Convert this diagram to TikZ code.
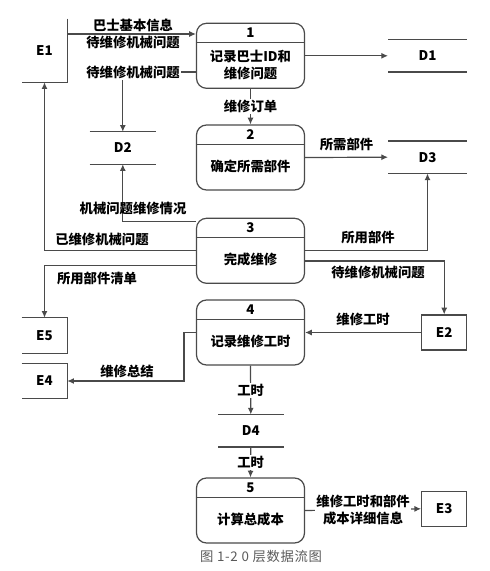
\documentclass[tikz,border=0pt]{standalone}
\usepackage{fontspec}
\setmainfont{Noto Sans CJK SC}
\usepackage{tikz}
\usetikzlibrary{arrows.meta,positioning}
\definecolor{flowgray}{HTML}{4A4A4A}
\definecolor{capgray}{HTML}{5A5A5A}

\begin{document}
\begin{tikzpicture}[x=0.75pt,y=-0.75pt,
    txt/.style={font=\fontsize{10}{13}\selectfont\bfseries, align=center},
    lbl/.style={txt, fill=white, inner sep=1pt},
    proc/.style={draw=flowgray, line width=0.9pt, rounded corners=7.5pt,
      minimum width=81pt, minimum height=48.75pt, inner sep=0pt},
    ent/.style={txt, minimum width=33.75pt, minimum height=26.25pt, inner sep=0pt},
    store/.style={txt, minimum height=24pt, inner sep=0pt},
    flow/.style={draw=flowgray, line width=0.9pt, -{Latex[length=5pt,width=4.5pt]}},
    edge/.style={draw=flowgray, line width=0.9pt}]
  \useasboundingbox (0,0) rectangle (489,571);

  % Processes: number on top, name below the divider
  \foreach \n/\yc/\name in {1/55.8/{记录巴士ID和\\维修问题}, 2/157.5/确定所需部件,
    3/250.8/完成维修, 4/332.5/记录维修工时, 5/510.5/计算总成本} {
    \node[proc] (p\n) at (250.5,\yc) {};
    \draw[edge] ([yshift=-15pt]p\n.north west) -- ([yshift=-15pt]p\n.north east);
    \node[txt] (pn\n) at ([yshift=-7.5pt]p\n.north) {\n};
    \node[txt] (pt\n) at ([yshift=-31.5pt]p\n.north) {\name};
  }

  % Data stores: two horizontal rules
  \foreach \s/\xc/\yc/\w in {1/427.5/55.8/58.8pt, 2/122.8/148/49.3pt,
    3/427.5/157.2/58.8pt, 4/250.8/430.7/48.75pt} {
    \node[store, minimum width=\w] (d\s) at (\xc,\yc) {D\s};
    \draw[edge] (d\s.north west) -- (d\s.north east);
    \draw[edge] (d\s.south west) -- (d\s.south east);
  }

  % External entities (left ones cut at the page edge)
  \node[ent, minimum height=47.25pt] (e1) at (44.5,50.5) {E1};
  \draw[edge] (e1.north east) -- (e1.south east) -- (e1.south west);
  \node[ent] (e5) at (44.5,335.5) {E5};
  \draw[edge] (e5.north west) -- (e5.north east) -- (e5.south east) -- (e5.south west);
  \node[ent, minimum height=25.5pt] (e4) at (44.5,381) {E4};
  \draw[edge] (e4.north west) -- (e4.north east) -- (e4.south east) -- (e4.south west);
  \node[ent, draw=flowgray, line width=0.9pt] (e2) at (444.2,332.5) {E2};
  \node[ent, draw=flowgray, line width=0.9pt] (e3) at (444.2,508.8) {E3};

  % Flows out of process 1
  \draw[flow] (e1.east |- 0,34) -- (p1.west |- 0,34);
  \node[txt] (l1) at (133,34) {巴士基本信息\\待维修机械问题};
  \draw[flow] (p1.west |- 0,72) -| (d2.north);
  \node[lbl] (l2) at (133,72) {待维修机械问题};
  \draw[flow] (p1.east) -- (d1.west);
  \draw[flow] (p1.south) -- (p2.north) node[lbl, midway] {维修订单};

  % Process 2
  \draw[flow] (p2.east) -- (d3.west) node[txt, midway, above=1pt] {所需部件};

  % Process 3
  \draw[flow] (p3.west |- 0,221.7) -| (d2.south);
  \node[txt] (l6) at (133,208) {机械问题维修情况};
  \draw[flow] (p3.west |- 0,250.7) -| (e1.south);
  \node[txt] (l7) at (102,239.3) {已维修机械问题};
  \draw[flow] (p3.west |- 0,265.7) -| (e5.north);
  \node[txt] (l8) at (97,278) {所用部件清单};
  \draw[flow] (p3.east |- 0,250.7) -| (d3.south);
  \node[txt] (l9) at (368,237) {所用部件};
  \draw[flow] (p3.east |- 0,261) -| (e2.north);
  \node[txt] (l10) at (378,272.7) {待维修机械问题};

  % Process 4
  \draw[flow] (e2.west) -- (p4.east) node[txt, midway, above=1pt] {维修工时};
  \draw[flow] (p4.west) -- ++(-12,0) |- (e4.east);
  \node[txt] (l12) at (127,371.7) {维修总结};
  \draw[flow] (p4.south) -- (d4.north) node[lbl, midway] {工时};

  % Process 5
  \draw[flow] (d4.south) -- (p5.north) node[lbl, midway] {工时};
  \draw[flow] (p5.east) -- (e3.west) node[lbl, midway] {维修工时和部件\\成本详细信息};

  % Caption
  \node[font=\fontsize{10}{12}\selectfont\addfontfeature{LetterSpace=5}, text=capgray]
    (cap) at (261,556) {图 1-2 0 层数据流图};
\end{tikzpicture}
\end{document}
